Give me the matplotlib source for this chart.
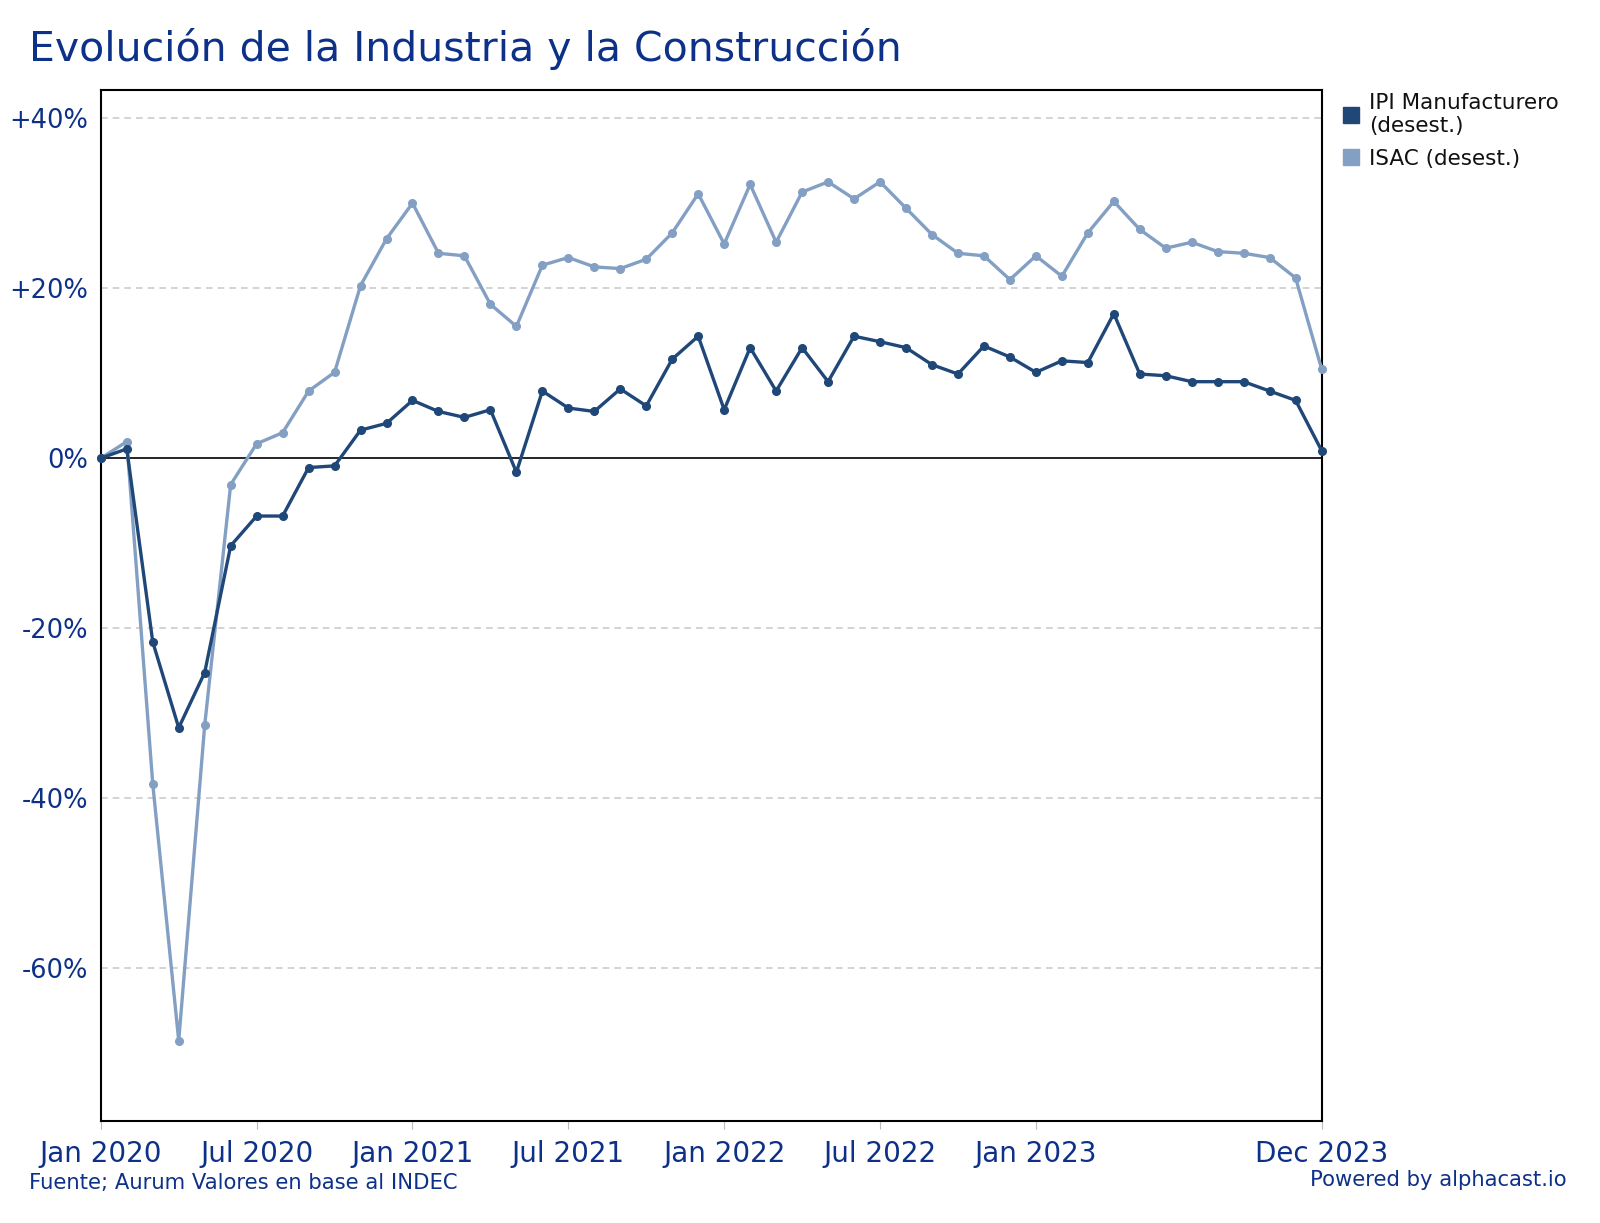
import matplotlib.pyplot as plt
import numpy as np
from matplotlib.lines import Line2D

# monthly, Jan 2020 .. Dec 2023 (% change)
ipi = [0, 1.1, -21.6, -31.7, -25.2, -10.3, -6.8, -6.8, -1.1, -0.9, 3.3, 4.1,
       6.8, 5.5, 4.8, 5.7, -1.65, 7.9, 5.9, 5.5, 8.15, 6.15, 11.65, 14.35,
       5.7, 13.0, 7.9, 13.0, 9.0, 14.35, 13.7, 13.0, 11.0, 9.9, 13.2, 11.9,
       10.1, 11.45, 11.25, 17.0, 9.9, 9.7, 9.0, 9.0, 9.0, 7.9, 6.8, 0.9]
isac = [0, 1.95, -38.3, -68.5, -31.4, -3.1, 1.7, 3.0, 7.9, 10.1, 20.3, 25.8,
        30.0, 24.1, 23.8, 18.1, 15.5, 22.7, 23.6, 22.5, 22.3, 23.4, 26.5, 31.1,
        25.2, 32.2, 25.4, 31.3, 32.5, 30.5, 32.5, 29.4, 26.3, 24.1, 23.8, 21.0,
        23.8, 21.4, 26.5, 30.2, 26.9, 24.7, 25.4, 24.3, 24.1, 23.6, 21.2, 10.5]
months = np.arange(len(ipi))
xtick_pos = [0, 6, 12, 18, 24, 30, 36, 47]
xtick_lab = ['Jan 2020', 'Jul 2020', 'Jan 2021', 'Jul 2021', 'Jan 2022',
             'Jul 2022', 'Jan 2023', 'Dec 2023']
ytick_pos = [40, 20, 0, -20, -40, -60]
ytick_lab = ['+40%', '+20%', '0%', '-20%', '-40%', '-60%']

txt = '#0d3188'
c_ipi = '#1f4778'
c_isac = '#839fc3'

fig = plt.figure(figsize=(16, 12.23), dpi=100)
ax = fig.add_axes([0.063, 0.083, 0.763, 0.8434])

for v in ytick_pos:
    if v != 0:
        ax.axhline(v, color='#cccccc', linestyle=(0, (4, 3)), linewidth=1.2, zorder=0)
ax.axhline(0, color='black', linewidth=1.2, zorder=1)

ax.plot(months, isac, color=c_isac, linewidth=2.4, marker='o', markersize=5.5,
        label='ISAC (desest.)', zorder=3, clip_on=False)
ax.plot(months, ipi, color=c_ipi, linewidth=2.4, marker='o', markersize=5.5,
        label='IPI Manufacturero\n(desest.)', zorder=4, clip_on=False)

ax.set_xlim(0, 47)
ax.set_ylim(-78.0, 43.3)
ax.set_xticks(xtick_pos)
ax.set_xticklabels(xtick_lab)
ax.set_yticks(ytick_pos)
ax.set_yticklabels(ytick_lab)
ax.tick_params(axis='x', colors='#bbbbbb', labelcolor=txt, labelsize=20, length=6, pad=7)
ax.tick_params(axis='y', length=0, labelcolor=txt, labelsize=18.5, pad=9)
for s in ax.spines.values():
    s.set_color('black')
    s.set_linewidth(1.5)

fig.text(0.018, 0.96, 'Evolución de la Industria y la Construcción', color=txt,
         fontsize=29.5, ha='left', va='center')

handles = [Line2D([], [], color=c_ipi, marker='s', linestyle='none', markersize=12),
           Line2D([], [], color=c_isac, marker='s', linestyle='none', markersize=12)]
leg = fig.legend(handles, ['IPI Manufacturero\n(desest.)', 'ISAC (desest.)'],
                 loc='upper left', bbox_to_anchor=(0.827, 0.94), frameon=False,
                 fontsize=15.5, handlelength=0.8, handletextpad=0.45, labelspacing=0.6)
for t in leg.get_texts():
    t.set_color('#111111')

fig.text(0.018, 0.033, 'Fuente; Aurum Valores en base al INDEC', color=txt,
         fontsize=15.2, ha='left', va='center')
fig.text(0.979, 0.035, 'Powered by alphacast.io', color=txt,
         fontsize=15.2, ha='right', va='center')

fig.savefig('out.png', dpi=100)
